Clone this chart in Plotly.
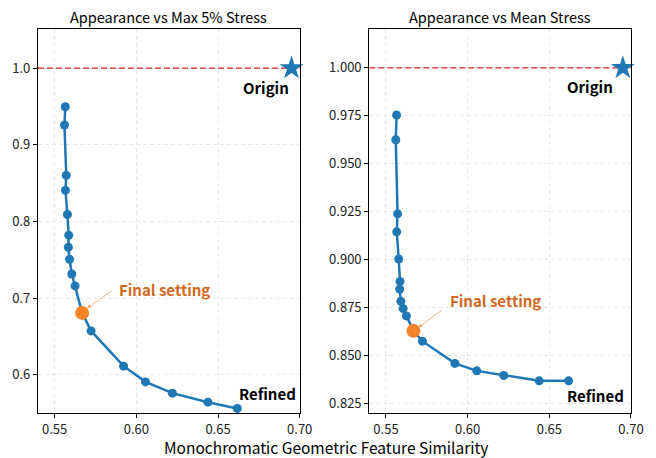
import plotly.graph_objects as go

geo_sim = [0.5565, 0.5560, 0.5571, 0.5566, 0.5578, 0.5586, 0.5584, 0.5591, 0.5605,
           0.5625, 0.5668, 0.5723, 0.5922, 0.6056, 0.6221, 0.6438, 0.6618]
app_max5 = [0.9495, 0.9257, 0.8600, 0.8405, 0.8090, 0.7819, 0.7662, 0.7506, 0.7314,
            0.7158, 0.6806, 0.6571, 0.6111, 0.5906, 0.5759, 0.5641, 0.5558]
app_mean = [0.9754, 0.9625, 0.9238, 0.9144, 0.9002, 0.8885, 0.8845, 0.8781, 0.8743,
            0.8705, 0.8627, 0.8573, 0.8457, 0.8418, 0.8394, 0.8366, 0.8366]
final_idx = 10
origin_x, origin_y = 0.695, 1.0
x_range = [0.5398, 0.70]
titles = ["Appearance vs Max 5% Stress", "Appearance vs Mean Stress"]
xlabel = "Monochromatic Geometric Feature Similarity"

FONT = "Noto Sans CJK SC"
BLUE = "#1f77b4"
ORANGE = "#f5832a"
TXT_OR = "#d2691e"

fig = go.Figure()
series = [app_max5, app_mean]
for i, ys in enumerate(series):
    xa = "x" if i == 0 else "x2"
    ya = "y" if i == 0 else "y2"
    fig.add_trace(go.Scatter(x=x_range, y=[origin_y, origin_y], mode="lines", xaxis=xa, yaxis=ya,
                             line=dict(color="#e3221c", width=1.4, dash="6px,3px"),
                             showlegend=False, hoverinfo="skip"))
    fig.add_trace(go.Scatter(x=geo_sim, y=ys, mode="lines+markers", xaxis=xa, yaxis=ya,
                             line=dict(color=BLUE, width=2.5),
                             marker=dict(color=BLUE, size=9), showlegend=False))
    fig.add_trace(go.Scatter(x=[geo_sim[final_idx]], y=[ys[final_idx]], mode="markers",
                             xaxis=xa, yaxis=ya,
                             marker=dict(color=ORANGE, size=14), showlegend=False))
    fig.add_trace(go.Scatter(x=[origin_x], y=[origin_y], mode="markers", xaxis=xa, yaxis=ya,
                             marker=dict(color=BLUE, size=18, symbol="star"), showlegend=False,
                             cliponaxis=False))

axis_common = dict(showline=True, linecolor="black", linewidth=1.2, mirror=True,
                   ticks="outside", ticklen=4, tickcolor="black",
                   tickfont=dict(family=FONT, size=13, color="#222"),
                   showgrid=True, gridcolor="#e6e6e6", griddash="4px,3px", gridwidth=1,
                   zeroline=False)

fig.update_layout(
    width=656, height=458,
    margin=dict(l=35, r=16, t=29, b=45),
    plot_bgcolor="white", paper_bgcolor="white",
    font=dict(family=FONT),
    xaxis=dict(domain=[0, 0.4413], range=x_range,
               tickvals=[0.55, 0.60, 0.65, 0.70], ticktext=["0.55", "0.60", "0.65", "0.70"], **axis_common),
    yaxis=dict(range=[0.55, 1.051], tickvals=[0.6, 0.7, 0.8, 0.9, 1.0],
               ticktext=["0.6", "0.7", "0.8", "0.9", "1.0"], **axis_common),
    xaxis2=dict(domain=[0.5587, 1], range=x_range, anchor="y2",
                tickvals=[0.55, 0.60, 0.65, 0.70], ticktext=["0.55", "0.60", "0.65", "0.70"], **axis_common),
    yaxis2=dict(range=[0.8198, 1.0203], anchor="x2",
                tickvals=[0.825, 0.85, 0.875, 0.9, 0.925, 0.95, 0.975, 1.0],
                ticktext=["0.825", "0.850", "0.875", "0.900", "0.925", "0.950", "0.975", "1.000"],
                **axis_common),
)

ann = []
# titles
ann.append(dict(text=titles[0], xref="x domain", yref="paper", x=0.5, y=1.0, yshift=13,
                showarrow=False, font=dict(family=FONT, size=14.5, color="black"), yanchor="middle"))
ann.append(dict(text=titles[1], xref="x2 domain", yref="paper", x=0.5, y=1.0, yshift=13,
                showarrow=False, font=dict(family=FONT, size=14.5, color="black"), yanchor="middle"))
ann.append(dict(text=xlabel, xref="paper", yref="paper", x=0.485, y=0, yshift=-34,
                showarrow=False, font=dict(family=FONT, size=15.5, color="black"), yanchor="middle"))

bold = dict(family=FONT, size=15, color="black")
labels = [
    ("x", "y", 0.6793, 0.975, "Origin"),
    ("x2", "y2", 0.6746, 0.9901, "Origin"),
    ("x", "y", 0.6805, 0.575, "Refined"),
    ("x2", "y2", 0.6781, 0.8292, "Refined"),
]
for xr, yr, x, y, t in labels:
    ann.append(dict(text=f"<b>{t}</b>", xref=xr, yref=yr, x=x, y=y, showarrow=False, font=bold))

ann.append(dict(text="<b>Final setting</b>", xref="x", yref="y", x=0.6175, y=0.7106, showarrow=False,
                font=dict(family=FONT, size=15, color=TXT_OR)))
ann.append(dict(text="<b>Final setting</b>", xref="x2", yref="y2", x=0.6168, y=0.8786, showarrow=False,
                font=dict(family=FONT, size=15, color=TXT_OR)))
# arrows
ann.append(dict(text="", xref="x", yref="y", axref="x", ayref="y", x=0.5698, y=0.6867,
                ax=0.5857, ay=0.7106, showarrow=True, arrowhead=2, arrowsize=1, arrowwidth=0.8,
                arrowcolor="#f5a066"))
ann.append(dict(text="", xref="x2", yref="y2", axref="x2", ayref="y2", x=0.5699, y=0.8644,
                ax=0.5849, ay=0.874, showarrow=True, arrowhead=2, arrowsize=1, arrowwidth=0.8,
                arrowcolor="#f5a066"))
fig.update_layout(annotations=ann)

fig.write_html("out.html", config={"displayModeBar": False},
               post_script="document.body.style.margin='0';")
